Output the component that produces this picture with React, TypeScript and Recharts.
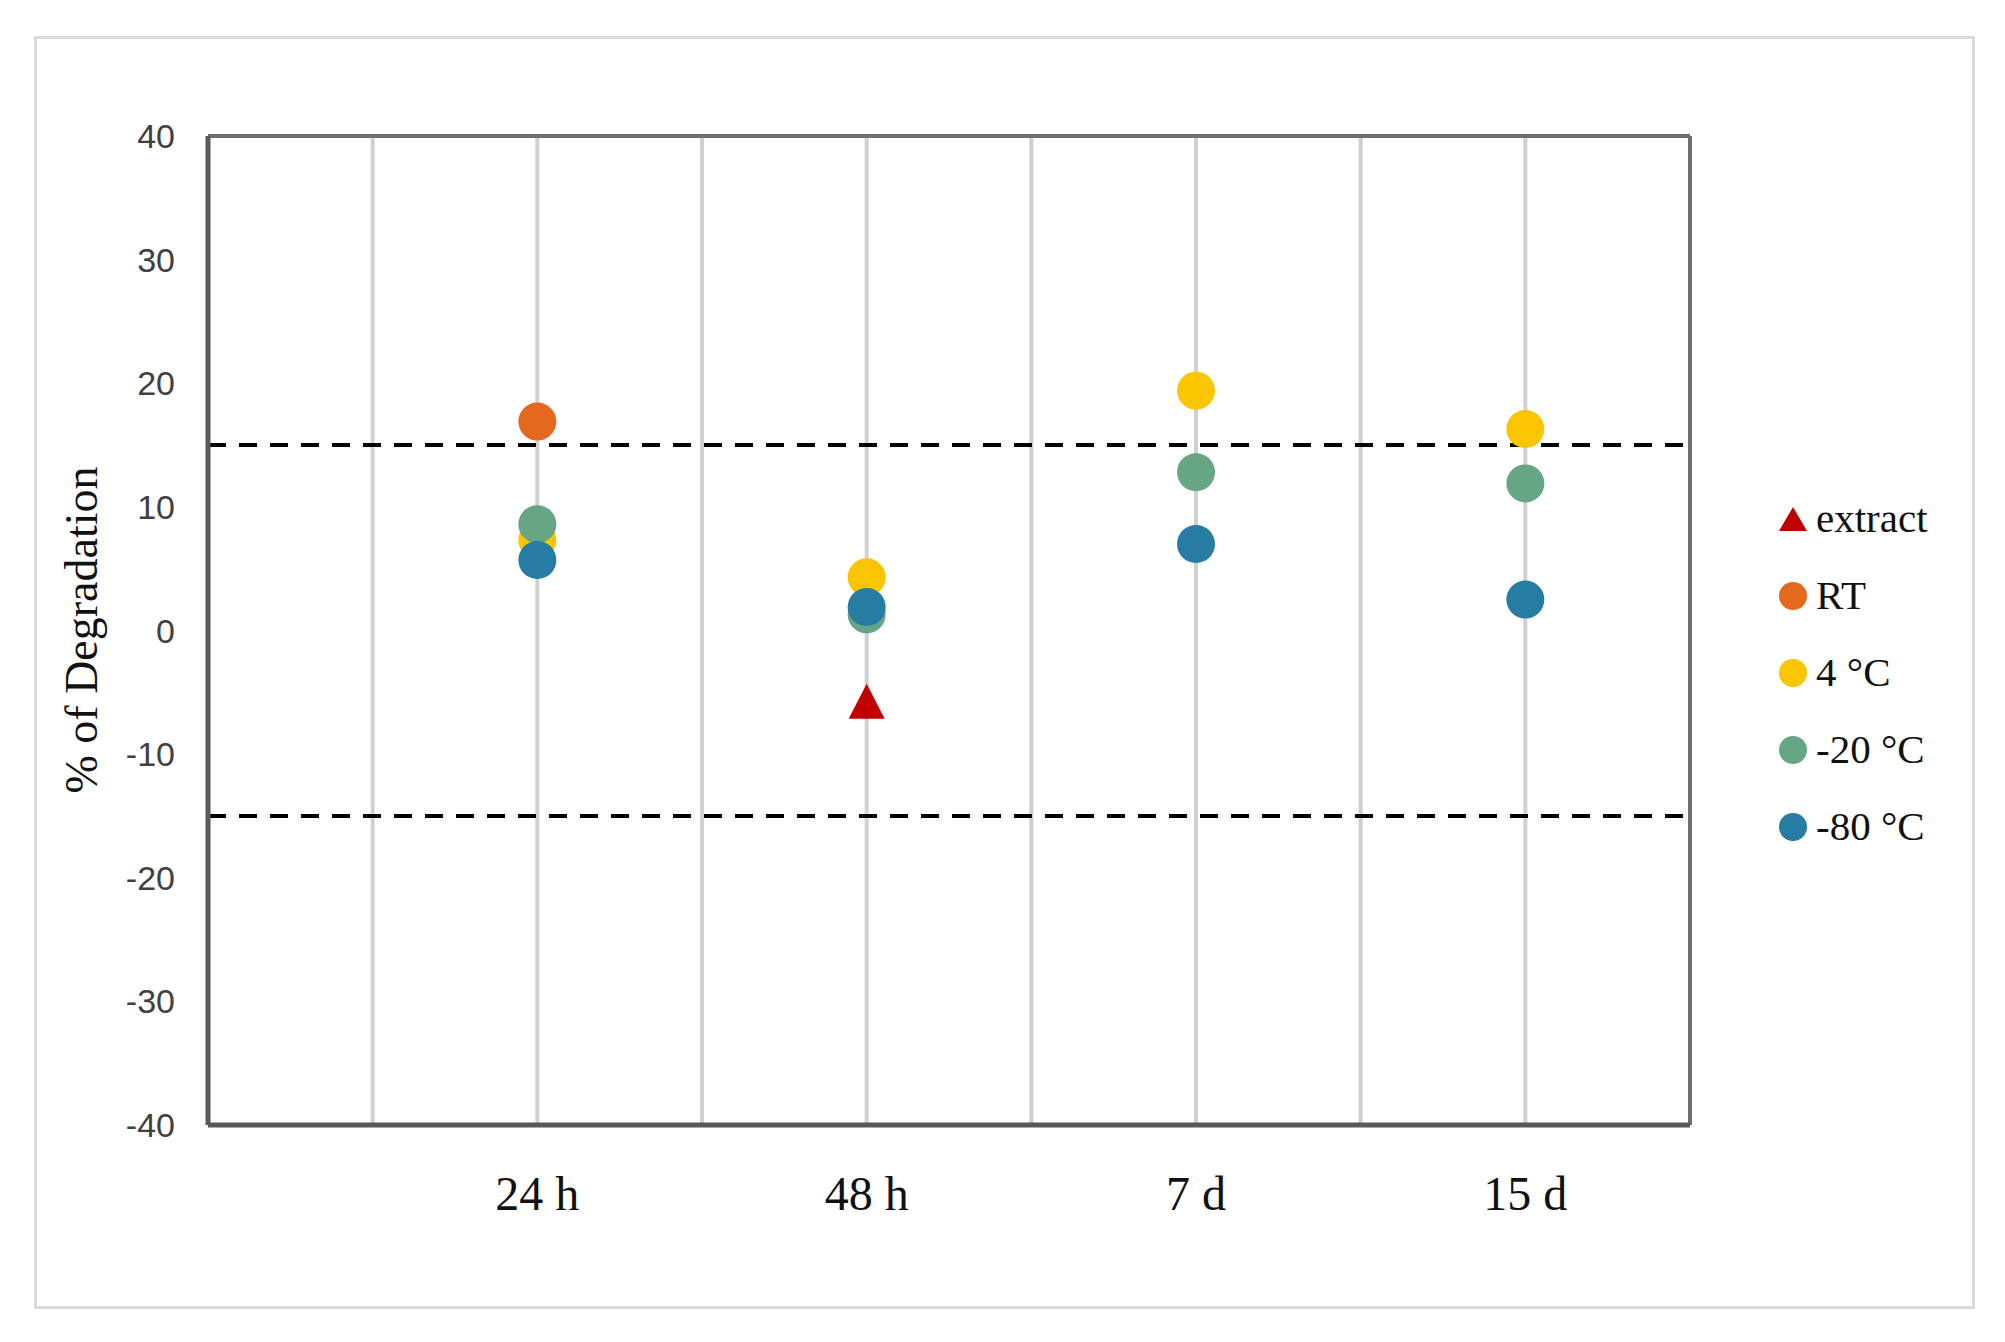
import React from "react";
import {
  CartesianGrid,
  ReferenceLine,
  Scatter,
  ScatterChart,
  XAxis,
  YAxis,
} from "recharts";

const timeLabels = ["24 h", "48 h", "7 d", "15 d"];
const timeX = [2, 4, 6, 8];
const gridX = [1, 2, 3, 4, 5, 6, 7, 8];
const yTicks = [-40, -30, -20, -10, 0, 10, 20, 30, 40];
const limits = [15, -15];

const extract = [null, -6.0, null, null];
const rt = [16.9, null, null, null];
const c4 = [7.3, 4.3, 19.4, 16.3];
const cm20 = [8.6, 1.3, 12.8, 11.9];
const cm80 = [5.7, 1.9, 7.0, 2.5];

type Series = {
  name: string;
  values: (number | null)[];
  color: string;
  triangle?: boolean;
};

const series: Series[] = [
  { name: "extract", values: extract, color: "#C00000", triangle: true },
  { name: "RT", values: rt, color: "#E5681F" },
  { name: "4 °C", values: c4, color: "#F8C500" },
  { name: "-20 °C", values: cm20, color: "#66A684" },
  { name: "-80 °C", values: cm80, color: "#267CA2" },
];

const toPoints = (values: (number | null)[]) =>
  values
    .map((v, i) => (v === null ? null : { x: timeX[i], y: v }))
    .filter((p) => p !== null) as { x: number; y: number }[];

const serif = "'Liberation Serif', 'Times New Roman', serif";
const sans = "'Liberation Sans', Arial, sans-serif";

const makeShape = (s: Series) => (props: any) => {
  const { cx, cy } = props;
  if (s.triangle) {
    return (
      <polygon
        points={`${cx},${cy - 21} ${cx + 18},${cy + 14} ${cx - 18},${cy + 14}`}
        fill={s.color}
      />
    );
  }
  return <circle cx={cx} cy={cy} r={19} fill={s.color} />;
};

const XTick = (props: any) => {
  const { x, y, payload } = props;
  const i = timeX.indexOf(payload.value);
  if (i < 0) return <g />;
  return (
    <text
      x={x}
      y={y + 83}
      textAnchor="middle"
      fontFamily={serif}
      fontSize={48}
      fill="#111"
    >
      {timeLabels[i]}
    </text>
  );
};

const Legend = () => (
  <div style={{ position: "absolute", left: 1775, top: 480 }}>
    {series.map((s) => (
      <div
        key={s.name}
        style={{ display: "flex", alignItems: "center", height: 77 }}
      >
        <svg width={36} height={36}>
          {s.triangle ? (
            <polygon points="18,6 32,30 4,30" fill={s.color} />
          ) : (
            <circle cx={18} cy={18} r={14} fill={s.color} />
          )}
        </svg>
        <span
          style={{
            fontFamily: serif,
            fontSize: 41,
            color: "#111",
            marginLeft: 5,
            lineHeight: "77px",
          }}
        >
          {s.name}
        </span>
      </div>
    ))}
  </div>
);

export default function App() {
  return (
    <div
      style={{
        position: "absolute",
        left: 0,
        top: 0,
        width: 2005,
        height: 1342,
        background: "#fff",
      }}
    >
      <div
        style={{
          position: "absolute",
          left: 34,
          top: 36,
          width: 1941,
          height: 1273,
          border: "3px solid #dadada",
          boxSizing: "border-box",
        }}
      />
      <ScatterChart
        width={2005}
        height={1342}
        margin={{ top: 136, right: 315, bottom: 117, left: 8 }}
      >
        <CartesianGrid horizontal={false} stroke="#d0d0d0" strokeWidth={4} />
        <XAxis
          type="number"
          dataKey="x"
          domain={[0, 9]}
          ticks={gridX}
          interval={0}
          height={100}
          tickLine={false}
          tickSize={0}
          axisLine={{ stroke: "#595959", strokeWidth: 5 }}
          tick={<XTick />}
        />
        <YAxis
          type="number"
          dataKey="y"
          domain={[-40, 40]}
          ticks={yTicks}
          interval={0}
          width={200}
          tickLine={false}
          tickSize={0}
          tickMargin={33}
          axisLine={{ stroke: "#595959", strokeWidth: 5 }}
          tick={{ fontSize: 34, fill: "#404040", fontFamily: sans }}
          label={{
            content: () => (
              <text
                x={81}
                y={630}
                transform="rotate(-90 81 630)"
                textAnchor="middle"
                dominantBaseline="central"
                fontFamily={serif}
                fontSize={46}
                fill="#111"
              >
                % of Degradation
              </text>
            ),
          }}
        />
        <ReferenceLine y={40} stroke="#6e6e6e" strokeWidth={4} />
        <ReferenceLine x={9} stroke="#6e6e6e" strokeWidth={4} />
        {series.map((s) => (
          <Scatter
            key={s.name}
            name={s.name}
            data={toPoints(s.values)}
            fill={s.color}
            shape={makeShape(s)}
            isAnimationActive={false}
          />
        ))}
        {limits.map((v) => (
          <ReferenceLine
            key={v}
            y={v}
            stroke="#000"
            strokeWidth={4}
            strokeDasharray="18 13"
          />
        ))}
      </ScatterChart>
      <Legend />
    </div>
  );
}
